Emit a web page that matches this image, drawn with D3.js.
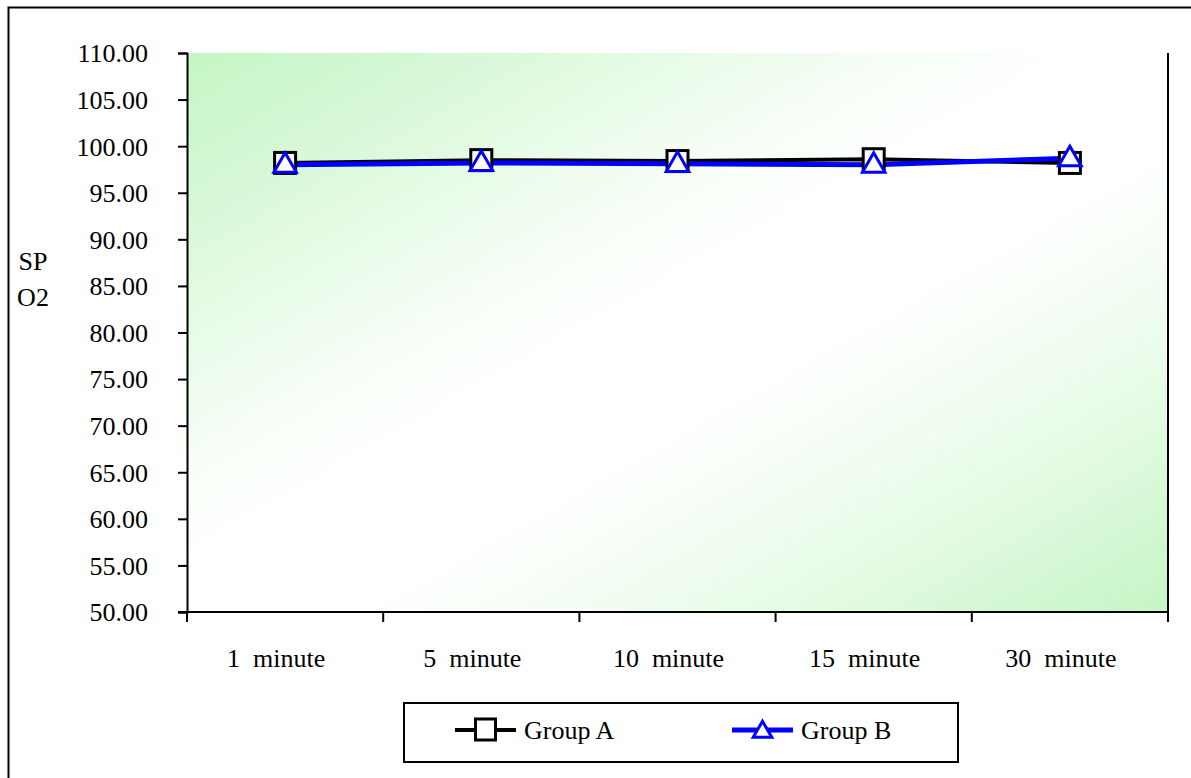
<!DOCTYPE html>
<html>
<head>
<meta charset="utf-8">
<script src="https://cdn.jsdelivr.net/npm/d3@7"></script>
<style>
  html, body { margin: 0; padding: 0; background: #fff; }
  svg { display: block; }
  svg text { font-family: "Liberation Serif", "Times New Roman", Tinos, "DejaVu Serif", serif !important; fill: #000; }
</style>
</head>
<body>
<svg id="chart" width="1191" height="778"></svg>
<script>
// Oxygen saturation (SpO2) at each time point
const categories = ["1  minute", "5  minute", "10  minute", "15  minute", "30  minute"];
const groupA = [98.2, 98.5, 98.4, 98.6, 98.2];
const groupB = [98.0, 98.2, 98.1, 98.0, 98.7];
const yTicks = [50, 55, 60, 65, 70, 75, 80, 85, 90, 95, 100, 105, 110];
const seriesNames = ["Group A", "Group B"];

const FONT = "'Liberation Serif', 'Times New Roman', serif";
const FS = "26px";

const svg = d3.select("#chart");
const plot = { left: 187, right: 1168, top: 53, bottom: 612 };

// Outer frame
svg.append("rect")
  .attr("x", 8.5).attr("y", 7.5)
  .attr("width", 1200).attr("height", 800)
  .attr("fill", "#fff").attr("stroke", "#000").attr("stroke-width", 2);

// Diagonal green-white-green fill of the plot area
const defs = svg.append("defs");
const grad = defs.append("linearGradient")
  .attr("id", "plotFill")
  .attr("x1", "0").attr("y1", "0").attr("x2", "1").attr("y2", "1");
[
  [0, "#c4f5c4"], [0.18, "#dcf9dc"], [0.36, "#f6fef6"], [0.46, "#ffffff"],
  [0.58, "#ffffff"], [0.72, "#f0fdf0"], [0.86, "#dcf9dc"], [1, "#c4f5c4"]
].forEach(([o, c]) => grad.append("stop").attr("offset", o).attr("stop-color", c));

const x = d3.scaleBand()
  .domain(categories)
  .range([plot.left, plot.right])
  .paddingInner(0).paddingOuter(0);

const y = d3.scaleLinear()
  .domain([50, 110])
  .range([plot.bottom, plot.top]);

svg.append("rect")
  .attr("x", plot.left).attr("y", plot.top)
  .attr("width", plot.right - plot.left)
  .attr("height", plot.bottom - plot.top)
  .attr("fill", "url(#plotFill)");

// Right edge of plot area
svg.append("line")
  .attr("x1", plot.right).attr("x2", plot.right)
  .attr("y1", plot.top).attr("y2", plot.bottom)
  .attr("stroke", "#000").attr("stroke-width", 2);

// Y axis
const yAxis = d3.axisLeft(y)
  .tickValues(yTicks)
  .tickFormat(d3.format(".2f"))
  .tickSize(9)
  .tickPadding(30);
const gy = svg.append("g")
  .attr("transform", `translate(${plot.left},0)`)
  .call(yAxis)
  .attr("font-family", FONT);
gy.select(".domain").attr("stroke", "#000").attr("stroke-width", 2);
gy.selectAll(".tick line").attr("stroke", "#000").attr("stroke-width", 2);
gy.selectAll(".tick text").style("font-size", FS).attr("dy", "0.34em");

// X axis: ticks at category boundaries
const boundaries = categories.map(c => x(c)).concat([plot.right]);
svg.append("line")
  .attr("x1", plot.left - 9).attr("x2", plot.right + 1)
  .attr("y1", plot.bottom).attr("y2", plot.bottom)
  .attr("stroke", "#000").attr("stroke-width", 2);
svg.selectAll(".xtick").data(boundaries).enter().append("line")
  .attr("class", "xtick")
  .attr("x1", d => d).attr("x2", d => d)
  .attr("y1", plot.bottom).attr("y2", plot.bottom + 10)
  .attr("stroke", "#000").attr("stroke-width", 2);
svg.selectAll(".xlabel").data(categories).enter().append("text")
  .attr("class", "xlabel")
  .attr("x", d => x(d) + x.bandwidth() / 2 - 9)
  .attr("y", 667)
  .attr("text-anchor", "middle")
  .style("font-size", FS)
  .style("white-space", "pre")
  .text(d => d);

// Y axis title
svg.append("text").attr("x", 33).attr("y", 270).attr("text-anchor", "middle")
  .style("font-size", FS).text("SP");
svg.append("text").attr("x", 33).attr("y", 306).attr("text-anchor", "middle")
  .style("font-size", FS).text("O2");

const cx = d => x(d) + x.bandwidth() / 2;
const lineGen = d3.line().x(d => cx(d.c)).y(d => y(d.v));
const dataA = categories.map((c, i) => ({ c, v: groupA[i] }));
const dataB = categories.map((c, i) => ({ c, v: groupB[i] }));

// Lines first, then markers
svg.append("path").datum(dataA).attr("d", lineGen)
  .attr("fill", "none").attr("stroke", "#000").attr("stroke-width", 4);
svg.append("path").datum(dataB).attr("d", lineGen)
  .attr("fill", "none").attr("stroke", "#0000ff").attr("stroke-width", 5);

const sq = 21;
svg.selectAll(".mA").data(dataA).enter().append("rect")
  .attr("class", "mA")
  .attr("x", d => cx(d.c) - sq / 2).attr("y", d => y(d.v) - sq / 2)
  .attr("width", sq).attr("height", sq)
  .attr("fill", "#fff").attr("stroke", "#000").attr("stroke-width", 3);

const tri = d3.symbol().type(d3.symbolTriangle).size(220);
svg.selectAll(".mB").data(dataB).enter().append("path")
  .attr("class", "mB")
  .attr("d", tri)
  .attr("transform", d => `translate(${cx(d.c)},${y(d.v) + 1})`)
  .attr("fill", "#fff").attr("stroke", "#0000ff").attr("stroke-width", 3);

// Legend
const legend = svg.append("g");
legend.append("rect")
  .attr("x", 404).attr("y", 703).attr("width", 554).attr("height", 59)
  .attr("fill", "#fff").attr("stroke", "#000").attr("stroke-width", 2);
const legendItems = [
  { name: seriesNames[0], x0: 455, color: "#000", w: 4, marker: "square" },
  { name: seriesNames[1], x0: 732, color: "#0000ff", w: 5, marker: "triangle" }
];
const ly = 730;
legendItems.forEach(it => {
  legend.append("line")
    .attr("x1", it.x0).attr("x2", it.x0 + 61)
    .attr("y1", ly).attr("y2", ly)
    .attr("stroke", it.color).attr("stroke-width", it.w);
  if (it.marker === "square") {
    legend.append("rect")
      .attr("x", it.x0 + 30.5 - 10).attr("y", ly - 11).attr("width", 20).attr("height", 21)
      .attr("fill", "#fff").attr("stroke", it.color).attr("stroke-width", 3);
  } else {
    legend.append("path").attr("d", d3.symbol().type(d3.symbolTriangle).size(150))
      .attr("transform", `translate(${it.x0 + 30.5},${ly + 2})`)
      .attr("fill", "#fff").attr("stroke", it.color).attr("stroke-width", 3);
  }
  legend.append("text")
    .attr("x", it.x0 + 69).attr("y", ly + 9)
    .style("font-size", FS)
    .text(it.name);
});
</script>
</body>
</html>
